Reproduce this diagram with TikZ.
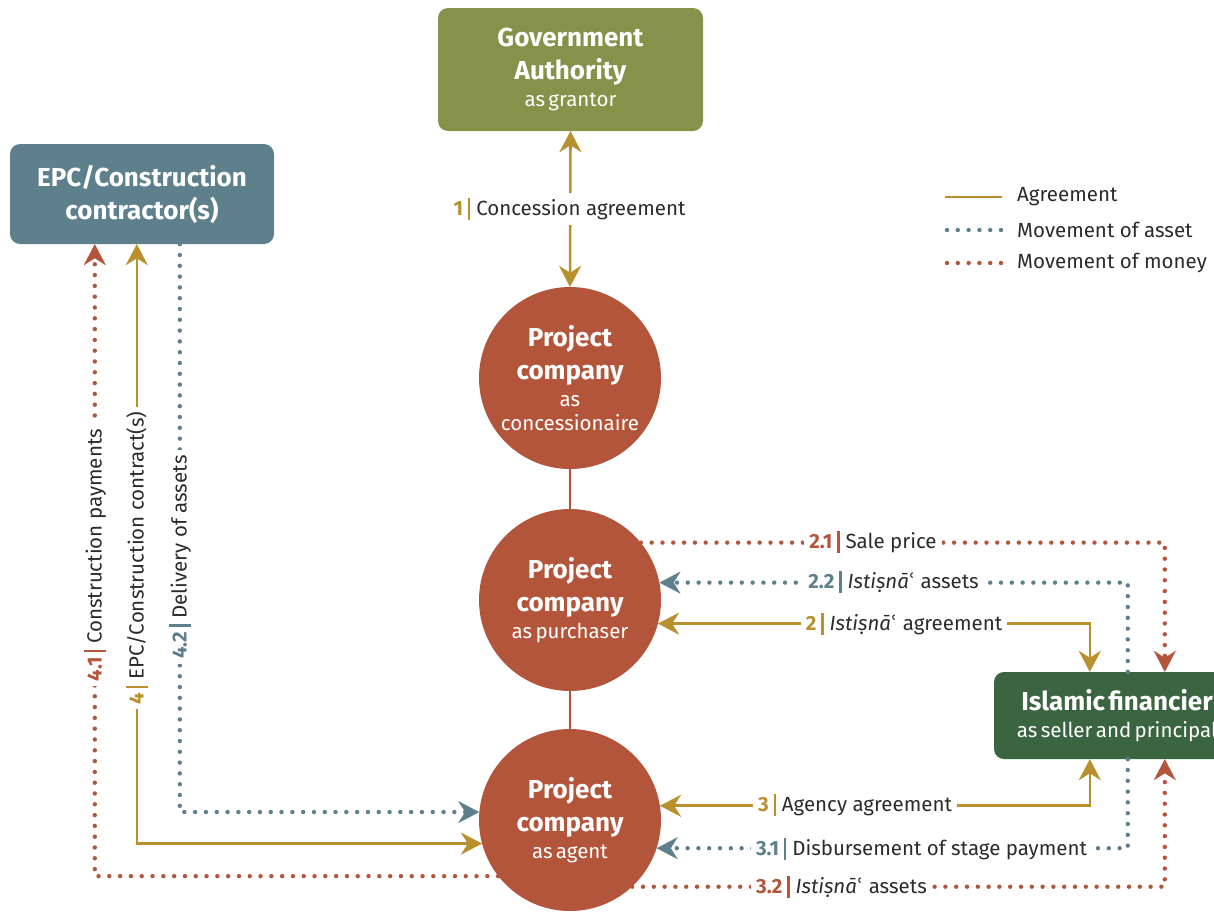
\documentclass[tikz,border=0pt]{standalone}
\usepackage{fontspec}
\setmainfont{Fira Sans}
\newfontfamily\dvs{DejaVu Sans}
\usetikzlibrary{arrows.meta,calc}

\definecolor{gold}{HTML}{B8902E}
\definecolor{slate}{HTML}{5E808C}
\definecolor{rust}{HTML}{B3553A}
\definecolor{olive}{HTML}{86914A}
\definecolor{forest}{HTML}{3A6540}
\definecolor{ink}{HTML}{2B2B2B}

\newcommand{\lbl}[3]{{\bfseries\color{#1}#2}\hspace{5pt}{\color{#1}\rule[-0.22em]{2.2pt}{1.08em}}\hspace{6pt}#3}
\newcommand{\ist}{\textit{Istiṣnā}{\dvs ʿ}}
\newcommand{\ttl}{\fontsize{26}{33}\selectfont\bfseries}
\newcommand{\sub}{\fontsize{20.5}{27}\selectfont\mdseries}

\begin{document}
\begin{tikzpicture}[x=1pt,y=-1pt,
  box/.style={rectangle, rounded corners=10pt, text=white, align=center, inner sep=0pt},
  circ/.style={circle, fill=rust, minimum size=182pt, inner sep=0pt, text=white, text width=140pt, align=center},
  agr/.style={draw=gold, line width=2.6pt},
  asset/.style={draw=slate, line width=4.4pt, line cap=round, dash pattern=on 0pt off 10.8pt},
  money/.style={draw=rust, line width=4.4pt, line cap=round, dash pattern=on 0pt off 10.8pt},
  link/.style={draw=rust, line width=2.4pt},
  arr/.tip={Stealth[length=21pt,width=22pt,inset=7pt,line width=0.1pt]},
  lab/.style={fill=white, text=ink, font=\fontsize{20.5}{24}\selectfont, inner sep=5pt},
  legtext/.style={text=ink, font=\fontsize{20.5}{24}\selectfont, anchor=west, inner sep=0pt},
]
\useasboundingbox (0,0) rectangle (1214,913);

% boxes
\node[box, fill=olive, minimum width=265pt, minimum height=123pt, text width=265pt] (gov) at (570.5,69.5)
  {\ttl Government\par Authority\par\sub as grantor\par};
\node[box, fill=slate, minimum width=264pt, minimum height=100pt, text width=264pt] (epc) at (142,194)
  {\ttl EPC/Construction\par contractor(s)\par};
\node[box, fill=forest, minimum width=246pt, minimum height=87pt, text width=246pt] (fin) at (1117,715.5)
  {\ttl Islamic financier\par\sub as seller and principal\par};

% circles
\node[circ] (c1) at (570,378) {\ttl Project\par company\par\sub as\par\fontsize{20.5}{24}\selectfont concessionaire\par};
\node[circ] (c2) at (570,600) {\ttl Project\par company\par\sub as purchaser\par};
\node[circ] (c3) at (570,820) {\ttl Project\par company\par\sub as agent\par};

\draw[link] (c1.south) -- (c2.north);
\draw[link] (c2.south) -- (c3.north);

% 1
\draw[agr, arr-arr] (gov.south) -- (c1.north);
\node[lab] at (569.5,209) {\lbl{gold}{1}{Concession agreement}};

% right side
\draw[money, -arr] (c2.39.6) -| ([xshift=171pt]fin.north west);
\draw[asset, -arr] ([xshift=134pt]fin.north west) |- (c2.11.4);
\draw[agr, arr-arr] (c2.-15.3) -| ([xshift=96pt]fin.north west);
\draw[agr, arr-arr] (c3.9.5) -| ([xshift=96pt]fin.south west);
\draw[asset, -arr] ([xshift=134pt]fin.south west) |- (c3.-18.6);
\draw[money, -arr] (c3.-47.4) -| ([xshift=171pt]fin.south west);

\node[lab] at (873,542) {\lbl{rust}{2.1}{Sale price}};
\node[lab] at (893.5,582) {\lbl{slate}{2.2}{\ist\ assets}};
\node[lab] at (904,624) {\lbl{gold}{2}{\ist\ agreement}};
\node[lab] at (855,805) {\lbl{gold}{3}{Agency agreement}};
\node[lab] at (921.5,849) {\lbl{slate}{3.1}{Disbursement of stage payment}};
\node[lab] at (841.5,887) {\lbl{rust}{3.2}{\ist\ assets}};

% left side
\draw[money, -arr] (c3.218.8) -| ([xshift=85pt]epc.south west);
\draw[agr, arr-arr] (c3.195.9) -| ([xshift=127pt]epc.south west);
\draw[asset, -arr] ([xshift=170pt]epc.south west) |- (c3.175);

\node[lab, rotate=90] at (95,555) {\lbl{rust}{4.1}{Construction payments}};
\node[lab, rotate=90] at (137,558) {\lbl{gold}{4}{EPC/Construction contract(s)}};
\node[lab, rotate=90] at (180,557) {\lbl{slate}{4.2}{Delivery of assets}};

% legend
\node[legtext] (lg1) at (1017,197) {Agreement};
\node[legtext] (lg2) at (1017,230) {Movement of asset};
\node[legtext] (lg3) at (1017,263) {Movement of money};
\draw[agr] ([xshift=-72pt]lg1.west) -- ([xshift=-15pt]lg1.west);
\draw[asset] ([xshift=-70pt]lg2.west) -- ([xshift=-15pt]lg2.west);
\draw[money] ([xshift=-70pt]lg3.west) -- ([xshift=-15pt]lg3.west);
\end{tikzpicture}
\end{document}
